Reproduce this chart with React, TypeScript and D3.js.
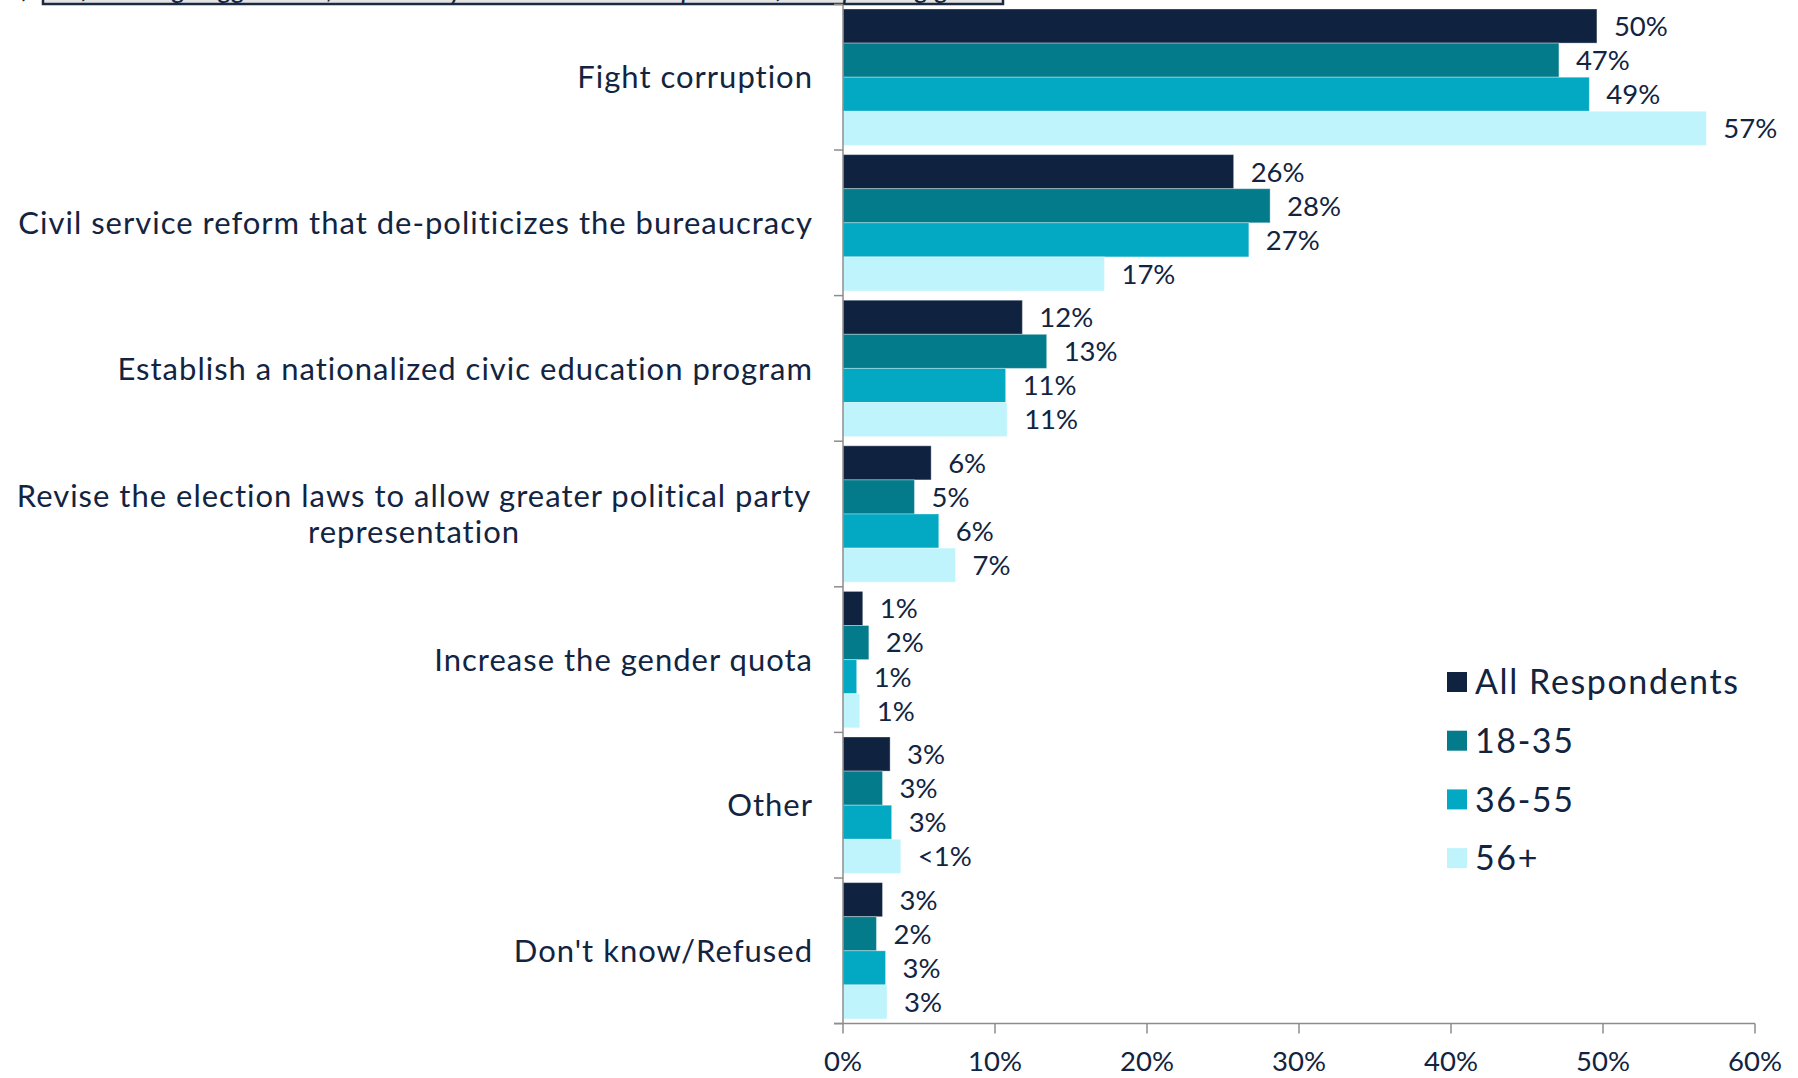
import React from "react";
import * as d3 from "d3";

const categories = [
  ["Fight corruption"],
  ["Civil service reform that de-politicizes the bureaucracy"],
  ["Establish a nationalized civic education program"],
  ["Revise the election laws to allow greater political party", "representation"],
  ["Increase the gender quota"],
  ["Other"],
  ["Don't know/Refused"],
];
const seriesNames = ["All Respondents", "18-35", "36-55", "56+"];
const seriesColors = ["#0f2341", "#037b8b", "#03a8c2", "#c0f4fc"];

const allRespondents = [49.6, 25.7, 11.8, 5.8, 1.3, 3.1, 2.6];
const age18to35 = [47.1, 28.1, 13.4, 4.7, 1.7, 2.6, 2.2];
const age36to55 = [49.1, 26.7, 10.7, 6.3, 0.9, 3.2, 2.8];
const age56plus = [56.8, 17.2, 10.8, 7.4, 1.1, 3.8, 2.9];

const allLabels = ["50%", "26%", "12%", "6%", "1%", "3%", "3%"];
const labels18to35 = ["47%", "28%", "13%", "5%", "2%", "3%", "2%"];
const labels36to55 = ["49%", "27%", "11%", "6%", "1%", "3%", "3%"];
const labels56plus = ["57%", "17%", "11%", "7%", "1%", "<1%", "3%"];

const xTicks = [0, 10, 20, 30, 40, 50, 60];
const titleText =
  "Q: Of the following suggestions, which do you think is most important for improving governance?";

const W = 1798;
const H = 1078;
const FONT = "Lato, 'DejaVu Sans', sans-serif";
const TEXT = "#12243f";

export default function App() {
  const values = [allRespondents, age18to35, age36to55, age56plus];
  const valueLabels = [allLabels, labels18to35, labels36to55, labels56plus];

  const x = d3.scaleLinear().domain([0, 60]).range([843, 1755]);
  const y = d3
    .scaleBand<number>()
    .domain(categories.map((_, i) => i))
    .range([4.4, 1023.6])
    .padding(0);
  const yi = d3
    .scaleBand<number>()
    .domain(seriesNames.map((_, i) => i))
    .range([0, y.bandwidth()])
    .paddingInner(0)
    .paddingOuter(0.135);

  const axisColor = "#8c8c8c";
  const bottom = y.range()[1];

  return (
    <svg
      width={W}
      height={H}
      style={{ position: "fixed", left: 0, top: 0, background: "#fff" }}
      fontFamily={FONT}
    >
      {/* cut-off question box */}
      <rect x={43} y={-60} width={960} height={64} fill="#e3e3e3" stroke="#1b2a40" strokeWidth={2.5} />
      <text x={523} y={-2} textAnchor="middle" fontSize={28} fill={TEXT} fontStyle="italic">
        {titleText}
      </text>

      {/* bars */}
      {categories.map((_, ci) =>
        seriesNames.map((_, si) => {
          const v = values[si][ci];
          const by = (y(ci) as number) + (yi(si) as number);
          return (
            <g key={`${ci}-${si}`}>
              <rect
                x={x(0)}
                y={by}
                width={x(v) - x(0)}
                height={yi.bandwidth()}
                fill={seriesColors[si]}
                stroke="#ffffff"
                strokeOpacity={0.35}
                strokeWidth={1}
              />
              <text
                x={x(v) + 17}
                y={by + yi.bandwidth() / 2}
                dy="0.36em"
                fontSize={27.5}
                fill={TEXT}
              >
                {valueLabels[si][ci]}
              </text>
            </g>
          );
        })
      )}

      {/* y axis */}
      <line x1={x(0)} x2={x(0)} y1={y.range()[0]} y2={bottom} stroke={axisColor} strokeWidth={1.5} />
      {[...categories.map((_, i) => y(i) as number), bottom].map((t, i) => (
        <line key={i} x1={x(0) - 9} x2={x(0)} y1={t} y2={t} stroke={axisColor} strokeWidth={1.5} />
      ))}
      {categories.map((lines, i) => {
        const cy = (y(i) as number) + y.bandwidth() / 2;
        const lh = 36;
        const start = cy - ((lines.length - 1) * lh) / 2;
        return (
          <text
            key={i}
            fontSize={31}
            letterSpacing={1}
            fill={TEXT}
            textAnchor={lines.length > 1 ? "middle" : "end"}
          >
            {lines.map((l, li) => (
              <tspan
                key={li}
                x={lines.length > 1 ? 414 : 813}
                y={start + li * lh}
                dy="0.36em"
              >
                {l}
              </tspan>
            ))}
          </text>
        );
      })}

      {/* x axis */}
      <line x1={x(0) - 9} x2={x(60)} y1={bottom} y2={bottom} stroke={axisColor} strokeWidth={1.5} />
      {xTicks.map((t) => (
        <g key={t}>
          <line x1={x(t)} x2={x(t)} y1={bottom} y2={bottom + 10} stroke={axisColor} strokeWidth={1.5} />
          <text x={x(t)} y={1061} dy="0.36em" textAnchor="middle" fontSize={27.5} fill={TEXT}>
            {`${t}%`}
          </text>
        </g>
      ))}

      {/* legend */}
      {seriesNames.map((s, i) => {
        const ly = 682 + i * 58.7;
        return (
          <g key={s}>
            <rect x={1447} y={ly - 10} width={20} height={20} fill={seriesColors[i]} />
            <text x={1475} y={ly} dy="0.36em" fontSize={34} letterSpacing={1.6} fill={TEXT}>
              {s}
            </text>
          </g>
        );
      })}
    </svg>
  );
}
